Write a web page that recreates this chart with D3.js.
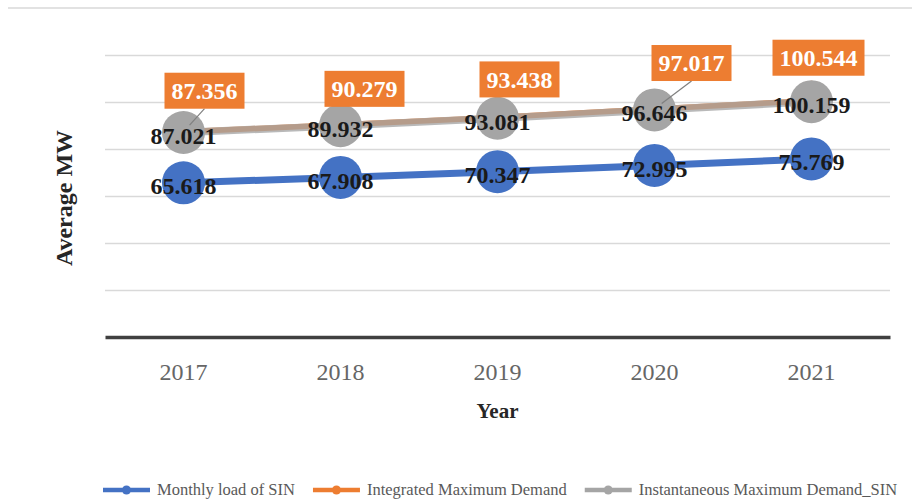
<!DOCTYPE html>
<html>
<head>
<meta charset="utf-8">
<script src="https://cdn.jsdelivr.net/npm/d3@7"></script>
<style>
    body { margin: 0; background: #fff; }
    svg { display: block; font-family: "Liberation Serif", "Times New Roman", serif; }
</style>
</head>
<body>
<svg id="chart" width="912" height="503"></svg>
<script>
const years = ["2017", "2018", "2019", "2020", "2021"];
const monthlyLoad = [65.618, 67.908, 70.347, 72.995, 75.769];
const integratedMax = [87.356, 90.279, 93.438, 97.017, 100.544];
const instantMax = [87.021, 89.932, 93.081, 96.646, 100.159];
const yTicks = [0, 20, 40, 60, 80, 100, 120];
const seriesNames = ["Monthly load of SIN", "Integrated Maximum Demand", "Instantaneous Maximum Demand_SIN"];

// the orange label boxes were dragged by hand in the original, keep their nudges
const boxNudge = [[21, -41], [24, -36], [22, -38], [37, -46], [7, -43]];

let svg = d3.select("#chart"),
    W = 912,
    H = 503,
    marge = {top: 55, right: 22, bottom: 166, left: 105},
    plotW = W - marge.left - marge.right,
    plotH = H - marge.top - marge.bottom,
    colors = ["#4472C4", "#ED7D31", "#A5A5A5"];

svg.append("rect").attr("width", W).attr("height", H).attr("fill", "#fff");

// faint frame line along the top
svg.append("line")
    .attr("x1", 8).attr("x2", W)
    .attr("y1", 8).attr("y2", 8)
    .attr("stroke", "#e2e2e2").attr("stroke-width", 2);

let x = d3.scaleBand().domain(years).range([marge.left, marge.left + plotW]);
let y = d3.scaleLinear().domain([0, 120]).range([marge.top + plotH, marge.top]);
let cx = d => x(d) + x.bandwidth() / 2;

//网格线
let grid = svg.append("g")
    .attr("transform", "translate(" + marge.left + ",0)")
    .call(d3.axisLeft(y).tickValues(yTicks.filter(v => v > 0)).tickSize(-plotW).tickFormat(""));
grid.select(".domain").remove();
grid.selectAll("line").attr("stroke", "#d9d9d9").attr("stroke-width", 1.5);

//x轴
let xAxis = svg.append("g")
    .attr("transform", "translate(0," + y(0) + ")")
    .call(d3.axisBottom(x).tickSize(0).tickPadding(26));
xAxis.attr("font-family", null);
xAxis.select(".domain").attr("stroke", "#404040").attr("stroke-width", 3.5);
xAxis.selectAll("text")
    .attr("fill", "#666")
    .style("font-size", "24px")
    .style("font-family", "'Liberation Serif', serif");

svg.append("text")
    .attr("x", marge.left + plotW / 2)
    .attr("y", 418)
    .attr("text-anchor", "middle")
    .attr("font-size", 21)
    .attr("font-weight", "bold")
    .attr("fill", "#262626")
    .text("Year");

svg.append("text")
    .attr("transform", "translate(64," + (marge.top + plotH / 2 + 2) + ") rotate(-90)")
    .attr("dy", "0.35em")
    .attr("text-anchor", "middle")
    .attr("font-size", 24)
    .attr("font-weight", "bold")
    .attr("fill", "#262626")
    .text("Average MW");

//绘制连线和点
let line = d3.line().x((d, i) => cx(years[i])).y(d => y(d));
let seriesData = [monthlyLoad, integratedMax, instantMax];
let radius = [21.5, 20, 21.5];
let widths = [7, 5.5, 7.5];

seriesData.forEach((vals, s) => {
    let g = svg.append("g");
    g.append("path")
        .datum(vals)
        .attr("d", line)
        .attr("fill", "none")
        .attr("stroke", colors[s])
        .attr("stroke-width", widths[s])
        .attr("stroke-opacity", s === 2 ? 0.78 : 1);
    g.selectAll("circle")
        .data(vals)
        .enter()
        .append("circle")
        .attr("cx", (d, i) => cx(years[i]))
        .attr("cy", d => y(d))
        .attr("r", radius[s])
        .attr("fill", colors[s]);
});

//橙色标签
let boxes = svg.append("g");
integratedMax.forEach((v, i) => {
    let px = cx(years[i]), py = y(v);
    let bx = px + boxNudge[i][0], by = py + boxNudge[i][1];
    let b = boxes.append("g");
    let t = b.append("text")
        .attr("x", bx)
        .attr("y", by)
        .attr("dy", "0.35em")
        .attr("text-anchor", "middle")
        .attr("font-size", 24)
        .attr("font-weight", "bold")
        .attr("fill", "#fff")
        .text(v.toFixed(3));
    let tw = t.node().getComputedTextLength() + 14;
    let bh = 36;
    b.insert("rect", "text")
        .attr("x", bx - tw / 2)
        .attr("y", by - bh / 2)
        .attr("width", tw)
        .attr("height", bh)
        .attr("fill", colors[1]);
    // leader line when the box sits far from its point
    let lx = bx, ly = by + bh / 2;
    let dist = Math.hypot(lx - px, ly - py);
    if (dist > 30.5) {
        let k = (dist - 9) / dist;
        boxes.insert("line", "g")
            .attr("x1", lx).attr("y1", ly)
            .attr("x2", lx + (px - lx) * k).attr("y2", ly + (py - ly) * k)
            .attr("stroke", "#7f7f7f").attr("stroke-width", 1.2);
    }
});

//黑色数值标签
[monthlyLoad, instantMax].forEach(vals => {
    svg.append("g").selectAll("text")
        .data(vals)
        .enter()
        .append("text")
        .attr("x", (d, i) => cx(years[i]))
        .attr("y", d => y(d))
        .attr("dy", "0.47em")
        .attr("text-anchor", "middle")
        .attr("font-size", 24)
        .attr("font-weight", "bold")
        .attr("fill", "#1a1a1a")
        .text(d => d.toFixed(3));
});

//图例
let legend = svg.append("g");
let lx = 103;
seriesNames.forEach((name, s) => {
    let item = legend.append("g").attr("transform", "translate(" + lx + ",490)");
    item.append("line")
        .attr("x1", 0).attr("x2", 47)
        .attr("stroke", colors[s]).attr("stroke-width", 4.5);
    item.append("circle")
        .attr("cx", 23.5).attr("r", 4.5)
        .attr("fill", colors[s]);
    let t = item.append("text")
        .attr("x", 54)
        .attr("dy", "0.32em")
        .attr("font-size", 16.5)
        .attr("fill", "#595959")
        .text(name);
    lx += 54 + t.node().getComputedTextLength() + 18;
});
</script>
</body>
</html>
